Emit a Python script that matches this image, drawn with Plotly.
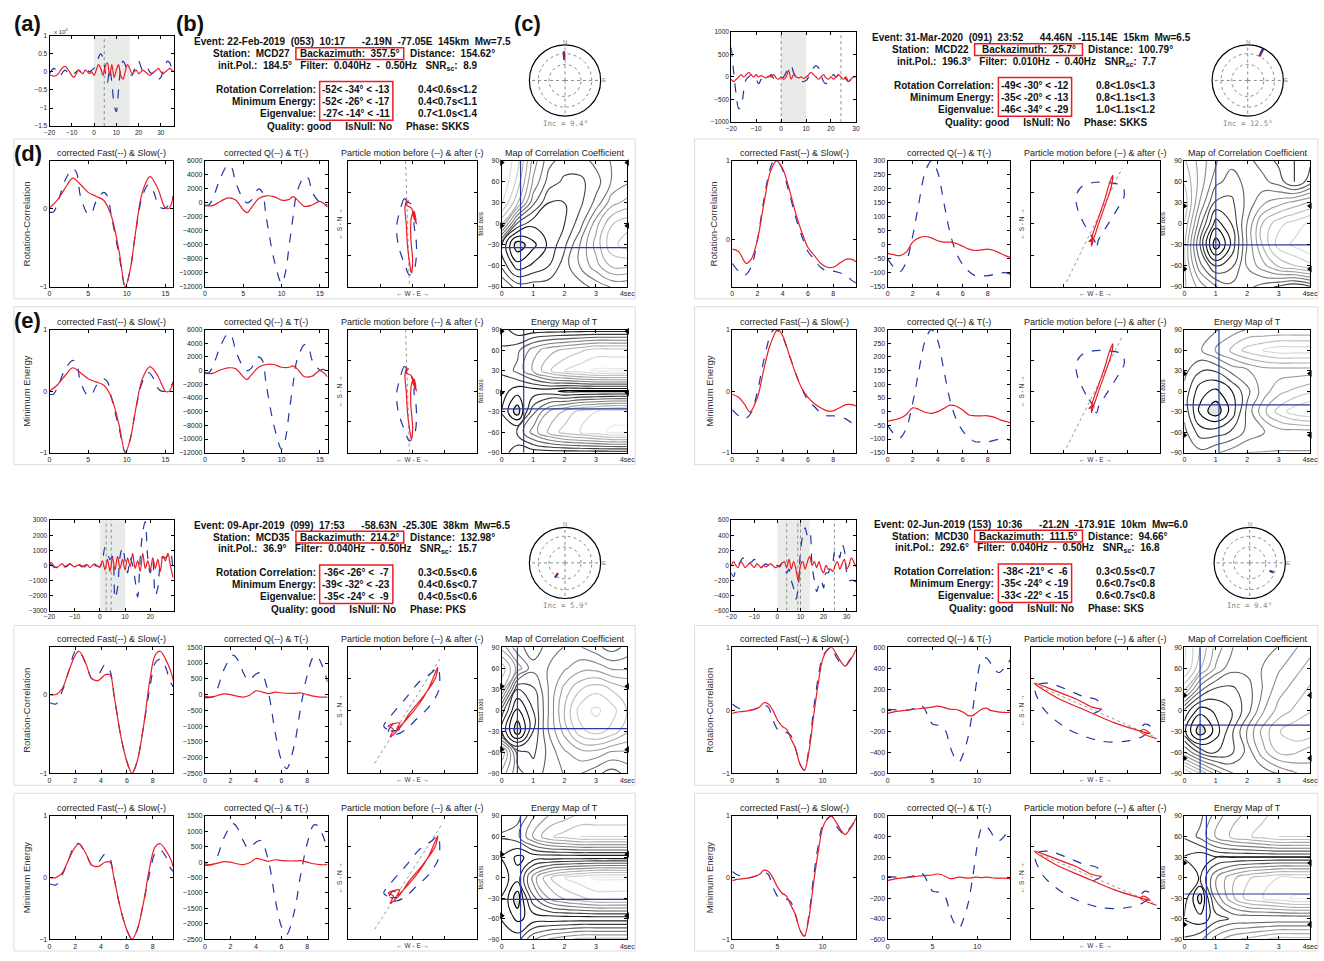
import plotly.graph_objects as go

W, H = 1324, 961
FONT = "Liberation Sans, Arial, sans-serif"
MONO = "DejaVu Sans Mono, monospace"
BLUE = "#1f36a3"
RED = "#ec1c24"
NB = "\u00a0"

# ---------------- header data ----------------
EVENT = ["Event: 22-Feb-2019  (053)  10:17      -2.19N  -77.05E  145km  Mw=7.5",
         "Event: 31-Mar-2020  (091)  23:52      44.46N  -115.14E  15km  Mw=6.5",
         "Event: 09-Apr-2019  (099)  17:53      -58.63N  -25.30E  38km  Mw=6.5",
         "Event: 02-Jun-2019 (153)  10:36      -21.2N  -173.91E  10km  Mw=6.0"]
STATION = ["MCD27", "MCD22", "MCD35", "MCD30"]
BAZ = [357.5, 25.7, 214.2, 111.5]
DIST = [154.62, 100.79, 132.98, 94.66]
INITPOL = [184.5, 196.3, 36.9, 292.6]
FILTER = ["0.040Hz  -  0.50Hz", "0.010Hz  -  0.40Hz", "0.040Hz  -  0.50Hz", "0.040Hz  -  0.50Hz"]
SNR = [8.9, 7.7, 15.7, 16.8]
RC_PHI = [[-52, -34, -13], [-49, -30, -12], [-36, -26, -7], [-38, -21, -6]]
RC_DT = [[0.4, 0.6, 1.2], [0.8, 1.0, 1.3], [0.3, 0.5, 0.6], [0.3, 0.5, 0.7]]
ME_PHI = [[-52, -26, -17], [-35, -20, -13], [-39, -32, -23], [-35, -24, -19]]
ME_DT = [[0.4, 0.7, 1.1], [0.8, 1.1, 1.3], [0.4, 0.6, 0.7], [0.6, 0.7, 0.8]]
EV_PHI = [[-27, -14, -11], [-46, -34, -29], [-35, -24, -9], [-33, -22, -15]]
EV_DT = [[0.7, 1.0, 1.4], [1.0, 1.1, 1.2], [0.4, 0.5, 0.6], [0.6, 0.7, 0.8]]
QUALITY = ["good", "good", "good", "good"]
ISNULL = ["No", "No", "No", "No"]
PHASE = ["SKKS", "SKKS", "PKS", "SKS"]
INC = [9.4, 12.5, 5.9, 9.4]
STEREO_R = [[0.58, 0.82], [0.75, 1.0], [0.35, 0.5], [0.6, 0.72]]

# ---------------- seismograms (a) ----------------
TL_SEIS_T = list(range(-20, 37))
TL_SEIS_Q = [-0.05, 0.05, 0.1, 0.05, -0.05, -0.1, 0.0, 0.05, 0.0, -0.05, -0.1, -0.05, 0.0, 0.05, 0.0, -0.05, 0.0, 0.05, 0.0, 0.05,
             0.1, 0.2, 0.4, 0.5, 0.4, 0.0, -0.3, 0.1, -0.3, -0.9, -1.1, -0.5, 0.1, 0.3, 0.2, 0.0, -0.05, -0.1, 0.05, 0.2,
             0.3, 0.15, 0.0, 0.05, 0.1, 0.0, -0.05, 0.0, -0.1, -0.2, -0.15, 0.0, 0.2, 0.3, 0.25, 0.1, 0.05]
TL_SEIS_T_ = [-0.1, -0.1, -0.12, -0.1, -0.05, 0.05, 0.12, 0.15, 0.1, 0.0, -0.1, -0.15, -0.05, 0.05, 0.0, -0.05, 0.05, 0.0, -0.05, 0.0,
              -0.1, 0.05, 0.2, 0.1, -0.1, 0.15, 0.25, -0.1, 0.2, -0.15, 0.05, 0.2, -0.1, -0.2, 0.0, 0.2, 0.1, -0.05, 0.0, 0.05,
              -0.05, 0.0, 0.05, 0.0, -0.05, -0.1, -0.05, 0.0, 0.05, 0.1, 0.0, -0.05, 0.0, 0.05, 0.1, 0.05, 0.0]
TR_SEIS_T = list(range(-20, 31))
TR_SEIS_Q = [650, 100, -400, -700, -650, -300, -50, 0, 50, 0, -50, -150, -50, 0, 50, 0, 50, -30, 0, -30,
             -50, 0, 100, 200, 250, 100, 0, -50, -100, -100, -80, 0, 100, 200, 250, 200, 50, -100, -150, -50,
             0, 50, 0, 50, 100, 50, -50, -100, -50, 0, 0]
TR_SEIS_T_ = [-50, -100, -50, 0, 50, 0, 50, 100, 50, 0, 50, 0, 30, 0, -20, 20, 0, 50, -20, -50,
              0, -50, 0, 150, -50, 50, 0, -20, 0, -30, 0, 50, 100, 50, 0, -50, 0, 50, -20, -50,
              0, -50, 0, 50, 0, -50, 0, -100, -50, 0, 0]
BL_SEIS_T = list(range(-20, 30))
BL_SEIS_Q = [150, 0, -150, -50, 100, 0, -100, -50, 100, 0, -100, 50, 0, -100, 0, 50, -50, 100, 0, -50,
             -100, 300, 1200, 800, 400, 600, -2200, -1500, 600, 1200, 300, -500, 500, 0, -1000, -2100, 500, 2200, 2900, 500,
             -500, 300, -2000, -1500, 200, 600, 500, 700, 900, -500]
BL_SEIS_T_ = [200, 150, -100, -150, 0, 100, -50, 0, 100, 0, -100, 0, 50, -50, -100, 50, -150, 0, 100, -50,
              -100, 300, -300, 400, -400, 500, -300, 600, -200, 400, -300, 500, -100, 800, -200, 300, -400, 800, -200, 300,
              -300, 500, -200, 400, -400, 600, 300, 800, 0, -800]
BR_SEIS_T = list(range(-20, 35))
BR_SEIS_Q = [-100, -150, -50, 0, 50, 100, 50, 0, 30, 50, 80, 50, 0, -30, 0, 20, 0, 10, 0, -10,
             0, -20, 30, 0, -100, -50, -200, -300, -450, -300, 200, 400, 500, 400, 450, 0, -200, -350, -250, -200,
             -300, -100, -100, 0, 50, 200, 200, 100, 280, 200, -100, -200, -200, -200, -220]
BR_SEIS_T_ = [0, 50, 0, -30, 50, 20, -30, 0, 30, 0, -30, 20, 0, -30, 0, -20, 0, 20, 0, -30,
              -20, 0, 30, 50, -30, 80, -50, 50, -50, -200, 0, 50, -50, 50, 120, 0, 50, -30, 50, -50,
              -100, 0, -50, -50, -80, 0, 50, -50, 20, 80, -50, 0, 100, 50, -20]
SEIS_SHADE = [[0, 16], [0, 10], [0, 10], [0, 14]]
SEIS_PICKS = [[4.6], [0, 24], [2.5, 4.5], [4, 8.8, 10, 24.7]]

# ---------------- fast / slow ----------------
TL_FAST_X = [0, 0.5, 1, 2, 3, 3.5, 4, 5, 5.5, 6, 7, 7.5, 8, 9, 9.8, 10.5, 11, 12, 12.8, 13.5, 14, 14.5, 15, 15.5, 16]
TL_FAST = [-0.05, -0.05, 0.05, 0.35, 0.5, 0.45, 0.15, -0.08, -0.05, 0.08, 0.2, 0.15, -0.1, -0.6, -1.0, -0.75, -0.4, 0.15, 0.3, 0.2, 0.05, 0.0, 0.0, 0.05, 0.15]
TL_SLOW_X = [0, 1, 2, 3, 4, 5, 6, 7, 8, 9, 9.8, 10.5, 11, 12, 13, 14, 15, 15.5, 16]
TL_SLOW = [0.0, 0.1, 0.25, 0.38, 0.3, 0.2, 0.15, 0.1, -0.1, -0.55, -1.0, -0.75, -0.4, 0.2, 0.4, 0.25, 0.0, 0.0, 0.15]
TR_FAST_X = [0, 0.5, 1, 1.5, 2, 2.5, 3, 3.3, 3.8, 4.5, 5, 5.5, 6, 6.5, 7, 7.5, 8, 8.5, 9, 9.5, 9.8]
TR_FAST = [-0.3, -0.4, -0.45, -0.35, 0.0, 0.5, 0.9, 1.0, 0.95, 0.6, 0.3, 0.05, -0.15, -0.25, -0.35, -0.4, -0.4, -0.42, -0.45, -0.52, -0.55]
TR_SLOW_X = [0, 0.5, 1.1, 1.5, 2, 2.5, 3, 3.5, 4, 4.5, 5, 5.5, 6, 6.5, 7, 7.5, 8, 8.5, 9, 9.5, 9.8]
TR_SLOW = [-0.12, -0.15, -0.3, -0.25, 0.0, 0.45, 0.85, 1.0, 0.9, 0.65, 0.35, 0.1, -0.1, -0.2, -0.3, -0.35, -0.35, -0.3, -0.25, -0.25, -0.28]
TR_SLOW_E_X = [0, 0.5, 1, 1.4, 2, 2.5, 3, 3.6, 4, 4.5, 5, 5.5, 6, 6.5, 7, 7.5, 8, 8.5, 9, 9.5, 9.8]
TR_SLOW_E = [-0.05, -0.1, -0.22, -0.34, -0.1, 0.35, 0.75, 1.0, 0.9, 0.6, 0.3, 0.05, -0.1, -0.2, -0.27, -0.32, -0.32, -0.27, -0.22, -0.22, -0.24]
BL_FAST_X = [0, 0.5, 1, 1.5, 2, 2.3, 2.8, 3.3, 3.8, 4.3, 4.7, 5, 5.5, 6, 6.4, 6.8, 7.3, 7.8, 8.2, 8.6, 9, 9.4, 9.6]
BL_FAST = [-0.1, -0.12, 0.05, 0.3, 0.55, 0.55, 0.4, 0.2, 0.25, 0.38, 0.3, 0.0, -0.5, -0.85, -1.0, -0.85, -0.4, 0.1, 0.4, 0.45, 0.35, 0.15, 0.1]
BL_SLOW = [0.0, 0.0, 0.08, 0.3, 0.5, 0.55, 0.4, 0.2, 0.18, 0.25, 0.25, 0.0, -0.5, -0.85, -1.0, -0.85, -0.4, 0.2, 0.5, 0.55, 0.45, 0.3, 0.18]
BR_FAST_X = [0, 0.5, 1, 2, 3, 3.5, 4, 4.5, 5, 5.5, 6, 6.5, 7, 7.5, 8, 8.5, 9, 9.5, 10, 10.5, 11, 11.5, 12, 12.5, 13, 13.5, 13.7]
BR_FAST = [0.1, 0.05, 0.02, 0.0, 0.05, 0.08, 0.05, -0.15, -0.3, -0.35, -0.35, -0.4, -0.6, -0.85, -0.95, -0.6, 0.0, 0.5, 0.85, 0.95, 1.0, 0.85, 0.75, 0.7, 0.8, 0.9, 0.95]
BR_SLOW = [-0.05, -0.03, -0.02, 0.0, 0.05, 0.12, 0.1, 0.0, -0.15, -0.25, -0.3, -0.45, -0.6, -0.85, -0.95, -0.65, -0.1, 0.4, 0.8, 0.95, 1.0, 0.9, 0.78, 0.7, 0.78, 0.9, 0.97]

# ---------------- Q / T ----------------
TL_Q_X = [0, 0.5, 1, 2, 3, 3.5, 4, 5, 5.5, 6, 7, 7.5, 8, 9, 10, 10.5, 11, 11.5, 12, 13, 13.5, 14, 15, 15.5, 16]
TL_Q = [-300, -300, 500, 3500, 5400, 5000, 3000, 500, 0, 300, 2000, 1500, -2000, -8000, -11500, -10000, -6000, -2000, 1500, 3800, 3500, 1500, 100, 200, -500]
TL_T_X = [0, 1, 2, 3, 4, 5, 5.5, 6, 7, 8, 9, 10, 11, 11.5, 12, 13, 14, 15, 16]
TL_T = [-400, -400, 200, 700, 400, -1000, -1400, -800, 600, 1000, 900, 400, 500, 900, 500, -500, -300, 200, -600]
TL_T_E = [-400, -400, 100, 400, 300, -900, -1300, -700, 500, 900, 900, 500, 500, 700, 300, -900, -800, 0, -900]
TR_Q_X = [0, 0.5, 1, 1.5, 2, 2.5, 3, 3.5, 4, 4.5, 5, 5.5, 6, 6.5, 7, 7.5, 8, 8.5, 9, 9.5, 9.8]
TR_Q = [-50, -80, -95, -60, 30, 150, 260, 300, 260, 150, 40, -30, -70, -95, -110, -110, -110, -105, -100, -100, -105]
TR_T = [-30, -35, -38, -25, 10, 25, 30, 25, 15, 10, 10, 5, -5, -15, -20, -18, -15, -20, -30, -40, -45]
TR_T_E = [-35, -30, -24, -10, 14, 8, -2, -6, 0, 12, 24, 20, 6, -12, -15, -15, -15, -20, -30, -36, -41]
BL_Q_X = [0, 0.7, 1, 1.5, 2.2, 2.5, 3, 3.4, 4, 4.4, 5, 5.5, 6, 6.4, 7, 7.5, 8, 8.5, 8.8, 9.2, 9.6]
BL_Q = [-100, -50, 200, 800, 1250, 1150, 700, 450, 650, 700, 0, -1200, -2100, -2350, -1600, -400, 600, 1200, 1200, 900, 400]
BL_T_X = [0, 0.5, 1, 1.5, 2, 2.5, 3, 3.5, 4, 4.5, 5, 5.5, 6, 7, 7.5, 8, 8.5, 9, 9.6]
BL_T = [-50, -80, -30, 20, 0, -50, -80, -20, 120, 80, 30, 80, 50, 40, 50, 0, -50, -80, -80]
BR_Q_X = [0, 1, 2, 3, 3.5, 4, 4.5, 5, 5.5, 6, 6.5, 7, 7.5, 8, 8.5, 9, 9.5, 10, 10.5, 11, 11.5, 12, 12.5, 13, 13.7]
BR_Q = [10, 5, 0, 20, 50, 30, -50, -130, -140, -150, -200, -350, -450, -490, -400, -250, 0, 300, 480, 500, 450, 380, 360, 400, 480]
BR_T_X = [0, 1, 2, 3, 4, 5, 5.5, 6, 7, 7.5, 8, 8.5, 9, 9.5, 10, 10.5, 11, 11.5, 12, 13, 13.7]
BR_T = [-30, -10, 0, 10, 20, 30, 40, 35, 10, 10, 0, -20, -50, -50, -20, 10, 20, 0, -10, -20, -20]
BR_T_E = [-30, -10, 0, 10, 20, 25, 35, 30, -10, -5, 5, 0, -5, 0, 5, 0, 5, 0, -5, -5, -10]

# ---------------- particle motion ----------------
TL_PB_X = [-0.10, -0.13, -0.2, -0.25, -0.22, -0.12, -0.05, 0.03, 0.06, 0.05, 0.02, 0.04, 0.06, -0.02, 0.0, -0.08, -0.10]
TL_PB_Y = [0.38, 0.40, 0.2, -0.05, -0.35, -0.65, -0.81, -0.7, -0.45, -0.2, 0.0, 0.1, 0.05, 0.25, 0.3, 0.35, 0.38]
TL_PA_X = [-0.1, -0.12, -0.1, -0.08, -0.05, -0.02, 0.0, -0.03, -0.02, 0.02, 0.05, 0.0, 0.06, -0.02, -0.1, -0.06]
TL_PA_Y = [0.37, 0.25, 0.0, -0.35, -0.6, -0.78, -0.6, -0.2, 0.1, 0.2, 0.05, 0.15, 0.0, 0.25, 0.3, 0.37]
TR_PB_X = [0.0, -0.15, -0.28, -0.3, -0.2, 0.0, 0.25, 0.42, 0.45, 0.35, 0.2, 0.05, 0.02, -0.04, 0.0]
TR_PB_Y = [-0.3, -0.05, 0.25, 0.45, 0.6, 0.66, 0.65, 0.6, 0.45, 0.25, 0.0, -0.25, -0.35, -0.3, -0.3]
TR_PA_X = [-0.06, -0.05, 0.05, 0.15, 0.22, 0.27, 0.25, 0.17, 0.05, -0.04, -0.1, -0.03, -0.06]
TR_PA_Y = [-0.35, -0.2, 0.1, 0.4, 0.65, 0.77, 0.6, 0.35, 0.0, -0.25, -0.28, -0.22, -0.35]
BL_PB_X = [-0.4, -0.45, -0.35, -0.1, 0.1, 0.3, 0.39, 0.42, 0.4, 0.25, 0.05, -0.1, -0.25, -0.38, -0.3, -0.2, -0.35]
BL_PB_Y = [-0.3, -0.25, -0.1, 0.2, 0.45, 0.6, 0.68, 0.55, 0.3, 0.05, -0.15, -0.3, -0.38, -0.35, -0.22, -0.3, -0.33]
BL_PA_X = [-0.35, -0.3, -0.38, -0.2, -0.25, -0.1, 0.1, 0.25, 0.39, 0.35, 0.15, -0.05, -0.2, -0.35]
BL_PA_Y = [-0.42, -0.3, -0.25, -0.2, -0.3, -0.15, 0.1, 0.35, 0.68, 0.5, 0.2, -0.05, -0.28, -0.42]
BR_PB_X = [-0.03, 0.10, 0.03, -0.19, -0.42, -0.74, -0.94, -0.81, -0.42, 0.10, 0.48, 0.74, 0.87, 0.77, 0.68]
BR_PB_Y = [-0.05, 0.03, 0.16, 0.22, 0.32, 0.43, 0.38, 0.03, -0.30, -0.49, -0.49, -0.41, -0.27, -0.22, -0.32]
BR_PA_X = [0.1, -0.05, -0.3, -0.6, -0.95, -0.6, -0.2, 0.3, 0.7, 0.85, 0.75, 0.7, 0.95]
BR_PA_Y = [0.02, 0.05, 0.18, 0.3, 0.43, 0.2, 0.02, -0.2, -0.33, -0.37, -0.3, -0.34, -0.45]
POL_X = [[-0.11, -0.05], [-0.45, 0.42], [-0.59, 0.45], [-0.94, 0.94]]
POL_Y = [[1.0, -1.0], [-0.92, 0.89], [-0.84, 0.86], [0.41, -0.43]]

# ---------------- grid maps ----------------
DT_GRID = [0, 0.5, 1, 1.5, 2, 2.5, 3, 3.5, 4]
PHI_GRID = [-90, -60, -30, 0, 30, 60, 90]
TL_CORR = [[0.5, 0.4, 0.4, 0.4, 0.4, 0.4, 0.45, 0.5, 0.5],
           [0.35, 0.2, 0.25, 0.3, 0.4, 0.5, 0.6, 0.7, 0.7],
           [0.3, 0.05, 0.15, 0.25, 0.35, 0.5, 0.65, 0.8, 0.85],
           [0.7, 0.35, 0.25, 0.25, 0.3, 0.4, 0.6, 0.75, 0.8],
           [0.9, 0.7, 0.45, 0.3, 0.3, 0.35, 0.45, 0.6, 0.65],
           [0.95, 0.8, 0.55, 0.4, 0.35, 0.35, 0.4, 0.5, 0.55],
           [0.95, 0.85, 0.6, 0.45, 0.4, 0.4, 0.45, 0.5, 0.5]]
TL_ENER = [[0.3, 0.2, 0.2, 0.2, 0.2, 0.2, 0.2, 0.2, 0.2],
           [0.3, 0.35, 0.55, 0.7, 0.8, 0.85, 0.9, 0.95, 0.95],
           [0.25, 0.05, 0.4, 0.6, 0.7, 0.8, 0.85, 0.9, 0.9],
           [0.3, 0.2, 0.2, 0.2, 0.15, 0.15, 0.15, 0.15, 0.15],
           [0.35, 0.45, 0.6, 0.75, 0.85, 0.9, 0.95, 0.95, 0.95],
           [0.35, 0.4, 0.55, 0.65, 0.7, 0.75, 0.8, 0.8, 0.8],
           [0.3, 0.2, 0.2, 0.2, 0.2, 0.2, 0.2, 0.2, 0.2]]
TR_CORR = [[0.7, 0.6, 0.5, 0.45, 0.45, 0.4, 0.35, 0.3, 0.35],
           [0.7, 0.45, 0.3, 0.35, 0.5, 0.6, 0.7, 0.75, 0.8],
           [0.7, 0.35, 0.05, 0.25, 0.5, 0.7, 0.85, 0.9, 0.95],
           [0.75, 0.45, 0.2, 0.3, 0.5, 0.7, 0.8, 0.85, 0.9],
           [0.8, 0.55, 0.35, 0.35, 0.45, 0.55, 0.6, 0.65, 0.7],
           [0.75, 0.6, 0.45, 0.4, 0.45, 0.45, 0.4, 0.3, 0.4],
           [0.7, 0.6, 0.5, 0.45, 0.45, 0.4, 0.35, 0.3, 0.35]]
TR_ENER = [[0.5, 0.45, 0.5, 0.55, 0.6, 0.6, 0.6, 0.6, 0.6],
           [0.45, 0.3, 0.3, 0.35, 0.45, 0.5, 0.55, 0.55, 0.55],
           [0.4, 0.15, 0.05, 0.2, 0.45, 0.65, 0.8, 0.9, 0.95],
           [0.4, 0.2, 0.15, 0.25, 0.4, 0.55, 0.65, 0.7, 0.75],
           [0.45, 0.35, 0.35, 0.45, 0.5, 0.55, 0.55, 0.55, 0.55],
           [0.5, 0.5, 0.6, 0.7, 0.8, 0.85, 0.9, 0.9, 0.9],
           [0.5, 0.45, 0.5, 0.55, 0.6, 0.6, 0.6, 0.6, 0.6]]
BL_CORR = [[0.6, 0.45, 0.4, 0.45, 0.5, 0.5, 0.45, 0.4, 0.45],
           [0.75, 0.4, 0.35, 0.45, 0.55, 0.6, 0.6, 0.55, 0.55],
           [0.3, 0.05, 0.3, 0.5, 0.65, 0.8, 0.85, 0.8, 0.7],
           [0.4, 0.15, 0.3, 0.5, 0.7, 0.85, 0.9, 0.85, 0.75],
           [0.7, 0.3, 0.35, 0.5, 0.65, 0.75, 0.8, 0.75, 0.7],
           [0.8, 0.6, 0.45, 0.5, 0.55, 0.6, 0.6, 0.55, 0.55],
           [0.6, 0.45, 0.4, 0.45, 0.5, 0.5, 0.45, 0.4, 0.45]]
BL_ENER = [[0.3, 0.3, 0.5, 0.6, 0.65, 0.7, 0.7, 0.7, 0.7],
           [0.25, 0.15, 0.2, 0.2, 0.2, 0.2, 0.2, 0.2, 0.2],
           [0.25, 0.05, 0.4, 0.6, 0.7, 0.75, 0.8, 0.8, 0.8],
           [0.3, 0.2, 0.55, 0.75, 0.85, 0.9, 0.95, 0.95, 0.95],
           [0.25, 0.15, 0.2, 0.2, 0.2, 0.2, 0.2, 0.2, 0.2],
           [0.35, 0.4, 0.6, 0.75, 0.8, 0.85, 0.85, 0.85, 0.85],
           [0.3, 0.3, 0.5, 0.6, 0.65, 0.7, 0.7, 0.7, 0.7]]
BR_CORR = [[0.9, 0.75, 0.6, 0.5, 0.45, 0.45, 0.5, 0.55, 0.6],
           [0.5, 0.35, 0.3, 0.35, 0.45, 0.6, 0.7, 0.7, 0.65],
           [0.25, 0.05, 0.2, 0.35, 0.5, 0.65, 0.75, 0.8, 0.8],
           [0.35, 0.2, 0.25, 0.3, 0.4, 0.55, 0.65, 0.7, 0.75],
           [0.7, 0.45, 0.35, 0.35, 0.4, 0.5, 0.6, 0.65, 0.7],
           [0.9, 0.7, 0.55, 0.45, 0.45, 0.5, 0.55, 0.6, 0.65],
           [0.9, 0.75, 0.6, 0.5, 0.45, 0.45, 0.5, 0.55, 0.6]]
BR_ENER = [[0.35, 0.4, 0.55, 0.65, 0.7, 0.75, 0.8, 0.8, 0.8],
           [0.25, 0.2, 0.3, 0.35, 0.35, 0.35, 0.35, 0.35, 0.35],
           [0.3, 0.06, 0.45, 0.65, 0.8, 0.85, 0.9, 0.95, 0.95],
           [0.3, 0.25, 0.5, 0.65, 0.75, 0.8, 0.85, 0.85, 0.85],
           [0.25, 0.2, 0.25, 0.25, 0.25, 0.25, 0.25, 0.25, 0.25],
           [0.35, 0.45, 0.6, 0.7, 0.75, 0.8, 0.85, 0.85, 0.85],
           [0.35, 0.4, 0.55, 0.65, 0.7, 0.75, 0.8, 0.8, 0.8]]

# ---------------- axis limits / ticks ----------------
SEIS_XR = [[-20, 36], [-20, 30], [-20, 29.5], [-20, 34]]
SEIS_YR = [[-1.5, 1], [-1000, 1000], [-3000, 3000], [-600, 600]]
SEIS_DY = [0.5, 500, 1000, 200]
WAVE_XR = [[0, 16], [0, 9.8], [0, 9.6], [0, 13.7]]
WAVE_DX = [5, 2, 2, 5]
P1_YR_D = [[-1, 0.6], [-0.6, 1], [-1, 0.6], [-1, 1]]
P1_YR_E = [[-1, 1], [-1, 1], [-1, 1], [-1, 1]]
P2_YR = [[-12000, 6000], [-150, 300], [-2500, 1500], [-600, 600]]
P2_DY = [2000, 50, 500, 200]
CONTOUR_STEP = [0.065, 0.085]

# per-quadrant series
SEIS = [(TL_SEIS_T, TL_SEIS_Q, TL_SEIS_T_), (TR_SEIS_T, TR_SEIS_Q, TR_SEIS_T_),
        (BL_SEIS_T, BL_SEIS_Q, BL_SEIS_T_), (BR_SEIS_T, BR_SEIS_Q, BR_SEIS_T_)]
FS_D = [((TL_FAST_X, TL_FAST), (TL_SLOW_X, TL_SLOW)), ((TR_FAST_X, TR_FAST), (TR_SLOW_X, TR_SLOW)),
        ((BL_FAST_X, BL_FAST), (BL_FAST_X, BL_SLOW)), ((BR_FAST_X, BR_FAST), (BR_FAST_X, BR_SLOW))]
FS_E = [((TL_FAST_X, TL_FAST), (TL_SLOW_X, TL_SLOW)), ((TR_FAST_X, TR_FAST), (TR_SLOW_E_X, TR_SLOW_E)),
        ((BL_FAST_X, BL_FAST), (BL_FAST_X, BL_SLOW)), ((BR_FAST_X, BR_FAST), (BR_FAST_X, BR_SLOW))]
QT_D = [((TL_Q_X, TL_Q), (TL_T_X, TL_T)), ((TR_Q_X, TR_Q), (TR_Q_X, TR_T)),
        ((BL_Q_X, BL_Q), (BL_T_X, BL_T)), ((BR_Q_X, BR_Q), (BR_T_X, BR_T))]
QT_E = [((TL_Q_X, TL_Q), (TL_T_X, TL_T_E)), ((TR_Q_X, TR_Q), (TR_Q_X, TR_T_E)),
        ((BL_Q_X, BL_Q), (BL_T_X, BL_T)), ((BR_Q_X, BR_Q), (BR_T_X, BR_T_E))]
PM = [((TL_PB_X, TL_PB_Y), (TL_PA_X, TL_PA_Y)), ((TR_PB_X, TR_PB_Y), (TR_PA_X, TR_PA_Y)),
      ((BL_PB_X, BL_PB_Y), (BL_PA_X, BL_PA_Y)), ((BR_PB_X, BR_PB_Y), (BR_PA_X, BR_PA_Y))]
CORR = [TL_CORR, TR_CORR, BL_CORR, BR_CORR]
ENER = [TL_ENER, TR_ENER, BL_ENER, BR_ENER]

# ================= drawing =================
fig = go.Figure()
shapes, annots, lay = [], [], {}
cnt = [0]


def ann(x, y, text, size=10, xanchor='center', color='#111', family=FONT, yanchor='middle', angle=0):
    annots.append(dict(x=x / W, y=1 - y / H, xref='paper', yref='paper', text=text, showarrow=False,
                       xanchor=xanchor, yanchor=yanchor, textangle=angle,
                       font=dict(size=size, color=color, family=family)))


def prect(x0, y0, x1, y1, color, width=1.0):
    shapes.append(dict(type='rect', xref='paper', yref='paper', x0=x0 / W, x1=x1 / W,
                       y0=1 - y1 / H, y1=1 - y0 / H, line=dict(color=color, width=width), layer='above'))


AXB = dict(showline=True, mirror='ticks', linecolor='black', linewidth=1, ticks='inside', ticklen=3,
           tickwidth=0.8, tickcolor='black', showgrid=False, zeroline=False, tickformat='d',
           tickfont=dict(size=7, color='#222', family=FONT))


def axes(x0, x1, y0, y1, xa, ya):
    cnt[0] += 1
    n = cnt[0]
    s = '' if n == 1 else str(n)
    xd = dict(AXB, domain=[x0 / W, x1 / W], anchor='y' + s)
    xd.update(xa)
    yd = dict(AXB, domain=[1 - y1 / H, 1 - y0 / H], anchor='x' + s)
    yd.update(ya)
    lay['xaxis' + s] = xd
    lay['yaxis' + s] = yd
    return 'x' + s, 'y' + s


def line(xs, ys, X, Y, color, dash='solid', width=1.2, shape='spline'):
    fig.add_trace(go.Scatter(x=X, y=Y, xaxis=xs, yaxis=ys, mode='lines', showlegend=False, hoverinfo='skip',
                             line=dict(color=color, dash=dash, width=width, shape=shape, smoothing=0.9)))


def sp(s):
    return s.replace(' ', NB)


HDR_OFF = [(0, 0), (686, -4), (0, 487), (686, 486)]
SEIS_OFF = [(0, 0), (689, -4), (0, 488), (689, 488)]
PAN_OFF = [(0, 0), (690, 0), (0, 490), (690, 490)]
POL_C = [(565, 77), (1255, 77), (565, 563), (1257, 563)]
PX = [(44, 169), (201, 325), (346, 476), (501, 628)]
ROWS = [(158, 285), (328, 452)]
GRAYS = [[0, '#000000'], [0.18, '#303030'], [0.5, '#8c8c8c'], [0.8, '#c4c4c4'], [1, '#e8e8e8']]

pol_n = 0
for q in range(4):
    hx, hy = HDR_OFF[q]
    # ---------- header text ----------
    cx = 350 + hx
    ann(cx, 38 + hy, '<b>' + sp(EVENT[q]) + '</b>')
    bx0, bx1, by0, by1 = 293 + hx, 402 + hx, 44 + hy, 56 + hy
    prect(bx0, by0, bx1, by1, RED, 1.5)
    ann(bx0 - 4, 50 + hy, '<b>' + sp('Station:  ' + STATION[q]) + '</b>', xanchor='right')
    ann((bx0 + bx1) / 2, 50 + hy, '<b>' + sp('Backazimuth:  %.1f°' % BAZ[q]) + '</b>')
    ann(bx1 + 4, 50 + hy, '<b>' + sp('Distance:  %.2f°' % DIST[q]) + '</b>', xanchor='left')
    ann(cx - 4, 62 + hy, '<b>' + sp('init.Pol.:  %.1f°   Filter:  %s   SNR' % (INITPOL[q], FILTER[q]))
        + '<sub>sc</sub>' + sp(':  %.1f' % SNR[q]) + '</b>')
    vx0, vx1, vy0, vy1 = 317 + hx, 391 + hx, 78 + hy, 117 + hy
    prect(vx0, vy0, vx1, vy1, RED, 1.5)
    rows = [('Rotation Correlation:', RC_PHI[q], RC_DT[q]), ('Minimum Energy:', ME_PHI[q], ME_DT[q]),
            ('Eigenvalue:', EV_PHI[q], EV_DT[q])]
    for i, (lab, ph, dt) in enumerate(rows):
        yy = 86 + 12 * i + hy
        ann(vx0 - 2, yy, '<b>' + sp(lab) + '</b>', xanchor='right')
        ann((vx0 + vx1) / 2, yy, '<b>' + sp('%3d< %3d° < %3d' % (ph[0], ph[1], ph[2])) + '</b>')
        ann(414 + hx, yy, '<b>' + sp('%.1f<%.1fs<%.1f' % (dt[0], dt[1], dt[2])) + '</b>', xanchor='left')
    ann(366 + hx, 123 + hy, '<b>' + sp('Quality: %s     IsNull: %s     Phase: %s' % (QUALITY[q], ISNULL[q], PHASE[q])) + '</b>')

    # ---------- seismogram ----------
    sx, sy = SEIS_OFF[q]
    t, qv, tv = SEIS[q]
    xs, ys = axes(44 + sx, 170 + sx, 32 + sy, 123 + sy,
                  dict(range=SEIS_XR[q], dtick=10, tickfont=dict(size=6.5, color='#222', family=FONT)),
                  dict(range=SEIS_YR[q], dtick=SEIS_DY[q], tickformat='',
                       tickfont=dict(size=6.5, color='#222', family=FONT)))
    shapes.append(dict(type='rect', xref=xs, yref=ys + ' domain', x0=SEIS_SHADE[q][0], x1=SEIS_SHADE[q][1],
                       y0=0, y1=1, fillcolor='#e8ebe8', line=dict(width=0), layer='below'))
    for pk in SEIS_PICKS[q]:
        shapes.append(dict(type='line', xref=xs, yref=ys + ' domain', x0=pk, x1=pk, y0=0, y1=1,
                           line=dict(color='#777', width=0.8, dash='dot'), layer='below'))
    line(xs, ys, t, qv, BLUE, 'dash', 1.2)
    line(xs, ys, t, tv, RED, 'solid', 1.2)
    if q == 0:
        ann(46, 27, 'x 10<sup>4</sup>', size=6, xanchor='left', color='#333')

    # ---------- stereoplot ----------
    pol_n += 1
    pn = 'polar' if pol_n == 1 else 'polar%d' % pol_n
    pcx, pcy = POL_C[q]
    R = 36
    lay[pn] = dict(domain=dict(x=[(pcx - R) / W, (pcx + R) / W], y=[1 - (pcy + R) / H, 1 - (pcy - R) / H]),
                   bgcolor='white',
                   radialaxis=dict(range=[0, 1], tickvals=[0.45, 0.75], showticklabels=False, ticks='',
                                   showline=False, gridcolor='#8a8a8a', griddash='dot', gridwidth=0.8),
                   angularaxis=dict(rotation=90, direction='clockwise', tickvals=[0, 90, 180, 270],
                                    showticklabels=False, ticks='', showline=True, linecolor='black',
                                    linewidth=1.2, gridcolor='#8a8a8a', griddash='dot', gridwidth=0.8))
    fig.add_trace(go.Scatterpolar(r=STEREO_R[q], theta=[BAZ[q], BAZ[q]], mode='lines', subplot=pn,
                                  line=dict(color=BLUE, width=2.2), showlegend=False, hoverinfo='skip'))
    fig.add_trace(go.Scatterpolar(r=STEREO_R[q], theta=[BAZ[q] + 2, BAZ[q] + 2], mode='lines', subplot=pn,
                                  line=dict(color=RED, width=0.8), showlegend=False, hoverinfo='skip'))
    ann(pcx, pcy - R - 3, 'N', size=6, color='#888')
    ann(pcx + R + 3, pcy, 'E', size=6, color='#888')
    ann(pcx, pcy + 43, sp('Inc = %.1f°' % INC[q]), size=7.5, color='#888', family=MONO)

    # ---------- result rows ----------
    ox, oy = PAN_OFF[q]
    for r, (ry0, ry1) in enumerate(ROWS):
        y0, y1 = ry0 + oy, ry1 + oy
        shapes.append(dict(type='rect', xref='paper', yref='paper', x0=(8 + ox - (2 if q % 2 else 0)) / W,
                           x1=(636 + ox) / W, y0=1 - (y1 + 12) / H, y1=1 - (y0 - 20 - (2 if r == 0 else 3)) / H,
                           line=dict(color='#dcdcdc', width=1), layer='below'))
        fs = FS_D[q] if r == 0 else FS_E[q]
        qt = QT_D[q] if r == 0 else QT_E[q]
        # P1
        a0, a1 = PX[0]
        xs, ys = axes(a0 + ox, a1 + ox, y0, y1,
                      dict(range=WAVE_XR[q], dtick=WAVE_DX[q]),
                      dict(range=(P1_YR_D if r == 0 else P1_YR_E)[q], tickvals=[-1, 0, 1],
                           title=dict(text='Rotation-Correlation' if r == 0 else 'Minimum Energy',
                                      font=dict(size=9.5, color='#333', family=FONT), standoff=6)))
        line(xs, ys, fs[0][0], fs[0][1], BLUE, 'dash', 1.2)
        line(xs, ys, fs[1][0], fs[1][1], RED, 'solid', 1.2)
        ann((a0 + a1) / 2 + ox, y0 - 8, 'corrected Fast(--) &amp; Slow(-)', size=9, color='#222')
        # P2
        a0, a1 = PX[1]
        xs, ys = axes(a0 + ox, a1 + ox, y0, y1,
                      dict(range=WAVE_XR[q], dtick=WAVE_DX[q]),
                      dict(range=P2_YR[q], dtick=P2_DY[q]))
        line(xs, ys, qt[0][0], qt[0][1], BLUE, 'dash', 1.2)
        line(xs, ys, qt[1][0], qt[1][1], RED, 'solid', 1.2)
        ann((a0 + a1) / 2 + ox, y0 - 8, 'corrected Q(--) &amp; T(-)', size=9, color='#222')
        # P3
        a0, a1 = PX[2]
        xs, ys = axes(a0 + ox, a1 + ox, y0, y1,
                      dict(range=[-1, 1], dtick=0.5, showticklabels=False,
                           title=dict(text='\u2190 W - E \u2192', font=dict(size=6.5, color='#333', family=FONT), standoff=4)),
                      dict(range=[-1, 1], dtick=0.5, showticklabels=False,
                           title=dict(text='\u2190 S - N \u2192', font=dict(size=6.5, color='#333', family=FONT), standoff=4)))
        line(xs, ys, POL_X[q], POL_Y[q], '#999', 'dot', 1, 'linear')
        line(xs, ys, PM[q][0][0], PM[q][0][1], BLUE, 'dash', 1.2)
        line(xs, ys, PM[q][1][0], PM[q][1][1], RED, 'solid', 1.2)
        ann((a0 + a1) / 2 + ox, y0 - 8, 'Particle motion before (--) &amp; after (-)', size=9, color='#222')
        # P4 map
        a0, a1 = PX[3]
        xs, ys = axes(a0 + ox, a1 + ox, y0, y1,
                      dict(range=[0, 4], tickvals=[0, 1, 2, 3, 4], ticktext=['0', '1', '2', '3', '4sec']),
                      dict(range=[-90, 90], tickvals=[-90, -60, -30, 0, 30, 60, 90],
                           title=dict(text='fast axis', font=dict(size=6.5, color='#333', family=FONT), standoff=3)))
        grid = CORR[q] if r == 0 else ENER[q]
        fig.add_trace(go.Contour(x=DT_GRID, y=PHI_GRID, z=grid, xaxis=xs, yaxis=ys, showscale=False,
                                 contours=dict(type='constraint', operation='>', value=0.1),
                                 fillcolor='#e6e6e6', line=dict(color='black', width=1.2, smoothing=1.3),
                                 hoverinfo='skip'))
        fig.add_trace(go.Contour(x=DT_GRID, y=PHI_GRID, z=grid, xaxis=xs, yaxis=ys, showscale=False,
                                 contours=dict(coloring='lines', start=0.17, end=0.96, size=CONTOUR_STEP[r]),
                                 colorscale=GRAYS, zmin=0.1, zmax=0.97,
                                 line=dict(width=1.1, smoothing=1.3), hoverinfo='skip'))
        bphi = (RC_PHI if r == 0 else ME_PHI)[q][1]
        bdt = (RC_DT if r == 0 else ME_DT)[q][1]
        line(xs, ys, [bdt, bdt], [-90, 90], '#2a3b9c', 'solid', 1.2, 'linear')
        line(xs, ys, [0, 4], [bphi, bphi], '#2a3b9c', 'solid', 1.2, 'linear')
        p1 = ((BAZ[q] + 90) % 180) - 90
        p2 = p1 + 90 if p1 < 0 else p1 - 90
        fig.add_trace(go.Scatter(x=[0, 0, 4, 4], y=[p1, p2, p1, p2], xaxis=xs, yaxis=ys, mode='markers',
                                 marker=dict(symbol=['triangle-right', 'triangle-right', 'triangle-left', 'triangle-left'],
                                             size=6, color='black'),
                                 cliponaxis=False, showlegend=False, hoverinfo='skip'))
        ann((a0 + a1) / 2 + ox, y0 - 8, 'Map of Correlation Coefficient' if r == 0 else 'Energy Map of T',
            size=9, color='#222')

# panel labels
for lab, x, y in [('(a)', 6, 20), ('(b)', 170, 20), ('(c)', 511, 20), ('(d)', 6, 151), ('(e)', 6, 319)]:
    ann(x, y, '<b>' + lab + '</b>', size=22, xanchor='left', color='#111')

fig.update_layout(width=W, height=H, margin=dict(l=0, r=0, t=0, b=0), paper_bgcolor='white',
                  plot_bgcolor='white', showlegend=False, shapes=shapes, annotations=annots, **lay)
fig.write_html("out.html", config={'displayModeBar': False}, post_script="document.body.style.margin='0';")
